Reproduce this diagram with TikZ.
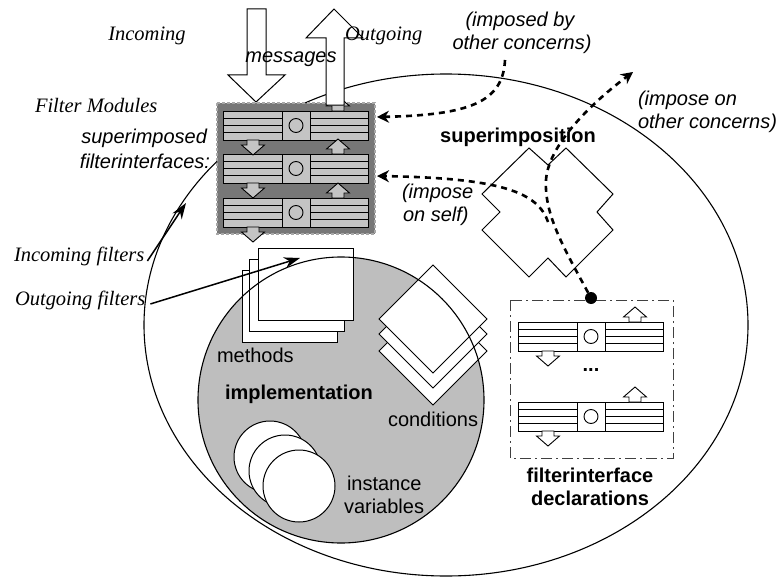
\documentclass[tikz,border=0pt]{standalone}
\usepackage{fontspec}
\setmainfont{Liberation Serif}
\setsansfont{Liberation Sans}
\usetikzlibrary{arrows.meta}
\definecolor{modgray}{HTML}{777777}
\definecolor{rowgray}{HTML}{C4C4C4}
\definecolor{impgray}{HTML}{BEBEBE}
\definecolor{bordergray}{HTML}{A8A8A8}
\tikzset{
  every node/.style={inner sep=0pt, outer sep=0pt},
  serifit/.style={font=\fontsize{20.5}{24}\selectfont\itshape},
  sansit/.style={font=\fontsize{20}{23}\selectfont\sffamily\itshape},
  sansrm/.style={font=\fontsize{20}{23}\selectfont\sffamily},
  sansbf/.style={font=\fontsize{20}{23}\selectfont\sffamily\bfseries},
  outline/.style={draw=black, line width=1pt},
  rowstyle/.style={draw=black, line width=0.9pt},
  imposearrow/.style={line width=2.6pt, dash pattern=on 6pt off 5pt, -{Stealth[length=12pt,width=12pt]}},
  pointer/.style={line width=1.5pt, -{Stealth[length=16pt,width=11pt]}},
  fi/.pic={
    \draw[pic actions] (0,0) rectangle (145,29);
    \draw[pic actions] (59,0) -- (59,29) (87,0) -- (87,29);
    \foreach \yy in {7.25,14.5,21.75}{\draw[pic actions] (0,\yy) -- (59,\yy) (87,\yy) -- (145,\yy);}
    \draw[pic actions] (73,14.5) circle[radius=7pt];
  },
  uparr/.pic={\draw[pic actions] (-6,0) -- (-6,-5) -- (-11.5,-5) -- (0,-15) -- (11.5,-5) -- (6,-5) -- (6,0) -- cycle;},
  downarr/.pic={\draw[pic actions] (-6,0) -- (-6,5) -- (-11.5,5) -- (0,15) -- (11.5,5) -- (6,5) -- (6,0) -- cycle;},
}
\begin{document}
\begin{tikzpicture}[x=1pt,y=-1pt]
\useasboundingbox (0,0) rectangle (779,578);
% outer ellipse
\draw[line width=1.1pt] (446,325) ellipse [x radius=302pt, y radius=251pt];
% implementation
\fill[impgray] (341,400) circle[radius=143pt];
\foreach \x/\y in {242/270, 249/259, 258/248}
  \draw[outline, fill=white] (\x,\y) rectangle ++(95,72);
\foreach \d in {32,15,0}
  \draw[outline, fill=white] (379,319+\d) -- (433,265+\d) -- (487,319+\d) -- (433,373+\d) -- cycle;
\foreach \x/\y in {270/457, 285/471, 299/486}
  \draw[outline, fill=white] (\x,\y) circle[radius=36pt];
\draw[line width=1.1pt] (341,400) circle[radius=143pt];
% filter module box
\draw[fill=modgray, draw=bordergray, line width=1.5pt, dash pattern=on 3pt off 2pt] (217,103) rectangle (375,234);
\foreach \y in {111,154,198}
  \pic[rowstyle, fill=rowgray] at (223,\y) {fi};
\foreach \y in {111,154,198}
  \pic[rowstyle, fill=rowgray] at (338,\y) {uparr};
\foreach \y in {140,183,227}
  \pic[rowstyle, fill=rowgray] at (253,\y) {downarr};
% big message arrows
\draw[outline, fill=white] (247,9) -- (266,9) -- (266,75) -- (285,75) -- (256,102) -- (228,75) -- (247,75) -- cycle;
\draw[outline, fill=white] (326,105) -- (326,38) -- (306,38) -- (334,9) -- (363,38) -- (344,38) -- (344,105) -- cycle;
% superimposition shape
\draw[outline, fill=white] (529,148) -- (548,165) -- (566,148) -- (613,194) -- (597,212) -- (613,230) -- (566,277) -- (548,258) -- (529,277) -- (482,230) -- (500,212) -- (482,194) -- cycle;
% filterinterface declarations
\draw[line width=1pt, draw=black!75, dash pattern=on 11pt off 4pt on 2pt off 4pt] (510,300) rectangle (673,458);
\foreach \y in {322,402}
  \pic[rowstyle, fill=white] at (518,\y) {fi};
\foreach \y in {322,402}
  \pic[rowstyle, fill=white] at (635,\y) {uparr};
\foreach \y in {351,431}
  \pic[rowstyle, fill=white] at (548,\y) {downarr};
\node[sansbf] (dots) at (591,370) {...};
\node[circle, fill=black, minimum size=12pt] (dot) at (591,298) {};
% dashed arrows
\coordinate (ibstart) at (505,60);
\coordinate (modin1) at (377,117);
\coordinate (modin2) at (377,176);
\coordinate (selfstart) at (548,222);
\coordinate (outother) at (633,72);
\draw[imposearrow] (ibstart) .. controls (503,102) and (470,115) .. (modin1);
\draw[imposearrow] (dot) .. controls (565,250) and (544,215) .. (546,180) .. controls (548,148) and (585,108) .. (outother);
\draw[imposearrow] (selfstart) .. controls (538,192) and (500,178) .. (modin2);
% texts
\node[serifit, anchor=base] (incoming) at (147,41) {Incoming};
\node[serifit, anchor=base west] (outgoing) at (345,41) {Outgoing};
\node[sansit, anchor=base] (messages) at (291,63) {messages};
\node[serifit, anchor=base west] (fm) at (35,112) {Filter Modules};
\node[sansit, anchor=base east] (sup) at (207,143) {superimposed};
\node[sansit, anchor=base east] (fis) at (210,168) {filterinterfaces:};
\node[serifit, anchor=base west] (inf) at (14,261) {Incoming filters};
\node[serifit, anchor=base west] (outf) at (15,305) {Outgoing filters};
\node[sansit, anchor=base] (ib1) at (520,27) {(imposed by};
\node[sansit, anchor=base] (ib2) at (522,49) {other concerns)};
\node[sansit, anchor=base west] (io1) at (638,105) {(impose on};
\node[sansit, anchor=base west] (io2) at (638,128) {other concerns)};
\node[sansbf, anchor=base] (superimp) at (518,142) {superimposition};
\node[sansit, anchor=base west] (is1) at (402,198) {(impose};
\node[sansit, anchor=base west] (is2) at (403,221) {on self)};
\node[sansrm, anchor=base west] (meth) at (217,362) {methods};
\node[sansbf, anchor=base west] (impl) at (225,399) {implementation};
\node[sansrm, anchor=base west] (cond) at (388,426) {conditions};
\node[sansrm, anchor=base west] (iv1) at (347,490) {instance};
\node[sansrm, anchor=base west] (iv2) at (344,513) {variables};
\node[sansbf, anchor=base] (fd1) at (590,482) {filterinterface};
\node[sansbf, anchor=base] (fd2) at (590,505) {declarations};
% pointers
\coordinate (infend) at (186,203);
\coordinate (outfend) at (300,258);
\draw[pointer] ([xshift=3pt]inf.base east) -- (infend);
\draw[pointer] ([xshift=5pt,yshift=-4pt]outf.east) -- (outfend);
\end{tikzpicture}
\end{document}
